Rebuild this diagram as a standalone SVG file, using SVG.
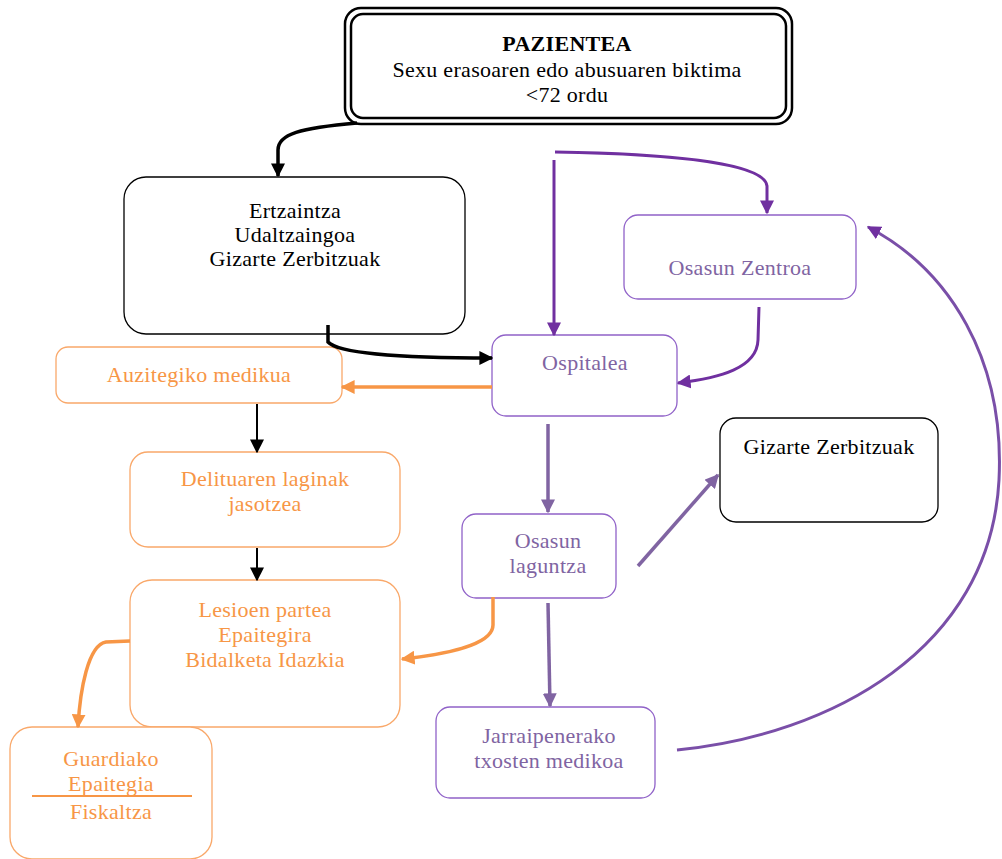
<svg xmlns="http://www.w3.org/2000/svg" width="1002" height="859" viewBox="0 0 1002 859">
<defs>
<marker id="abk" viewBox="0 0 10 10" refX="9" refY="5" markerWidth="14" markerHeight="14" markerUnits="userSpaceOnUse" orient="auto"><path d="M0,0 L10,5 L0,10 z" fill="#000"/></marker>
<marker id="ap" viewBox="0 0 10 10" refX="9" refY="5" markerWidth="14" markerHeight="14" markerUnits="userSpaceOnUse" orient="auto"><path d="M0,0 L10,5 L0,10 z" fill="#7030a0"/></marker>
<marker id="al" viewBox="0 0 10 10" refX="9" refY="5" markerWidth="14" markerHeight="14" markerUnits="userSpaceOnUse" orient="auto"><path d="M0,0 L10,5 L0,10 z" fill="#8064a2"/></marker>
<marker id="ao" viewBox="0 0 10 10" refX="9" refY="5" markerWidth="14" markerHeight="14" markerUnits="userSpaceOnUse" orient="auto"><path d="M0,0 L10,5 L0,10 z" fill="#f79646"/></marker>
</defs>
<style>
text{font-family:"Liberation Serif","DejaVu Serif",serif;font-size:22px;letter-spacing:0.3px;text-anchor:middle}
.bk{fill:#fff;stroke:#000;stroke-width:1.3}
.pu{fill:#fff;stroke:#9062c8;stroke-width:1.3}
.or{fill:#fff;stroke:#f9a86a;stroke-width:1.3}
.tb{fill:#000}
.tp{fill:#8064a2}
.to{fill:#f79646}
.c{fill:none}
</style>
<rect width="1002" height="859" fill="#fff"/>
<g id="pazientea">
<rect x="345" y="8" width="447" height="116" rx="16" fill="#fff" stroke="#000" stroke-width="2.5"/>
<rect x="351" y="14" width="435" height="104" rx="12" fill="none" stroke="#000" stroke-width="2.5"/>
<text x="567" y="51" class="tb" font-weight="bold">PAZIENTEA</text>
<text x="567" y="77" class="tb">Sexu erasoaren edo abusuaren biktima</text>
<text x="567" y="102" class="tb">&lt;72 ordu</text>
</g>
<g id="ertzaintza">
<rect x="124" y="177" width="341" height="157" rx="22" class="bk"/>
<text x="295" y="218" class="tb">Ertzaintza</text>
<text x="295" y="242" class="tb">Udaltzaingoa</text>
<text x="295" y="266" class="tb">Gizarte Zerbitzuak</text>
</g>
<g id="osasun-zentroa">
<rect x="624" y="215" width="232" height="84" rx="14" class="pu"/>
<text x="740" y="275" class="tp">Osasun Zentroa</text>
</g>
<g id="ospitalea">
<rect x="492" y="335" width="185" height="81" rx="14" class="pu"/>
<text x="585" y="370" class="tp">Ospitalea</text>
</g>
<g id="auzitegiko">
<rect x="56" y="347" width="286" height="56" rx="12" class="or"/>
<text x="199" y="382" class="to">Auzitegiko medikua</text>
</g>
<g id="delituaren">
<rect x="130" y="452" width="270" height="95" rx="18" class="or"/>
<text x="265" y="486" class="to">Delituaren laginak</text>
<text x="265" y="511" class="to">jasotzea</text>
</g>
<g id="lesioen">
<rect x="130" y="580" width="270" height="147" rx="22" class="or"/>
<text x="265" y="617" class="to">Lesioen partea</text>
<text x="265" y="642" class="to">Epaitegira</text>
<text x="265" y="667" class="to">Bidalketa Idazkia</text>
</g>
<g id="guardiako">
<rect x="10" y="727" width="202" height="132" rx="22" class="or"/>
<text x="111" y="766" class="to">Guardiako</text>
<text x="111" y="791" class="to">Epaitegia</text>
<line x1="32" y1="796" x2="192" y2="796" stroke="#f79646" stroke-width="2"/>
<text x="111" y="819" class="to">Fiskaltza</text>
</g>
<g id="osasun-laguntza">
<rect x="462" y="514" width="154" height="84" rx="14" class="pu"/>
<text x="548" y="548" class="tp">Osasun</text>
<text x="548" y="573" class="tp">laguntza</text>
</g>
<g id="gizarte">
<rect x="720" y="418" width="218" height="104" rx="16" class="bk"/>
<text x="829" y="454" class="tb">Gizarte Zerbitzuak</text>
</g>
<g id="jarraipenerako">
<rect x="436" y="707" width="219" height="91" rx="14" class="pu"/>
<text x="549" y="743" class="tp">Jarraipenerako</text>
<text x="549" y="768" class="tp">txosten medikoa</text>
</g>
<g id="connectors" class="c">
<path d="M357,123 C 300,128 278,134 278,150 L278,176" stroke="#000" stroke-width="3.5" fill="none" marker-end="url(#abk)"/>
<path d="M555,152 C 680,154 765,164 767,186 L767,213" stroke="#7030a0" stroke-width="3" fill="none" marker-end="url(#ap)"/>
<path d="M554,160 L554,335" stroke="#7030a0" stroke-width="3" fill="none" marker-end="url(#ap)"/>
<path d="M759,307 L758,340 C 757,368 720,378 678,383" stroke="#7030a0" stroke-width="3" fill="none" marker-end="url(#ap)"/>
<path d="M328,325 L328,342 C 340,355 420,358 492,358" stroke="#000" stroke-width="3.5" fill="none" marker-end="url(#abk)"/>
<path d="M492,387 L342,387" stroke="#f79646" stroke-width="3.5" fill="none" marker-end="url(#ao)"/>
<path d="M257,404 L257,452" stroke="#000" stroke-width="2" fill="none" marker-end="url(#abk)"/>
<path d="M257,548 L257,580" stroke="#000" stroke-width="2" fill="none" marker-end="url(#abk)"/>
<path d="M493,597 L493,625 C 493,646 440,655 402,659" stroke="#f79646" stroke-width="3.5" fill="none" marker-end="url(#ao)"/>
<path d="M130,641 L106,642 C 88,645 80,690 78,727" stroke="#f79646" stroke-width="3.5" fill="none" marker-end="url(#ao)"/>
<path d="M548,424 L548,512" stroke="#8064a2" stroke-width="3.5" fill="none" marker-end="url(#al)"/>
<path d="M638,566 L718,475" stroke="#8064a2" stroke-width="3.5" fill="none" marker-end="url(#al)"/>
<path d="M548,603 L550,706" stroke="#8064a2" stroke-width="3.5" fill="none" marker-end="url(#al)"/>
<path d="M677,750 C 830,735 990,650 999,480 C 1005,360 950,270 868,227" stroke="#7a4fa8" stroke-width="3" fill="none" marker-end="url(#ap)"/>
</g>
</svg>
